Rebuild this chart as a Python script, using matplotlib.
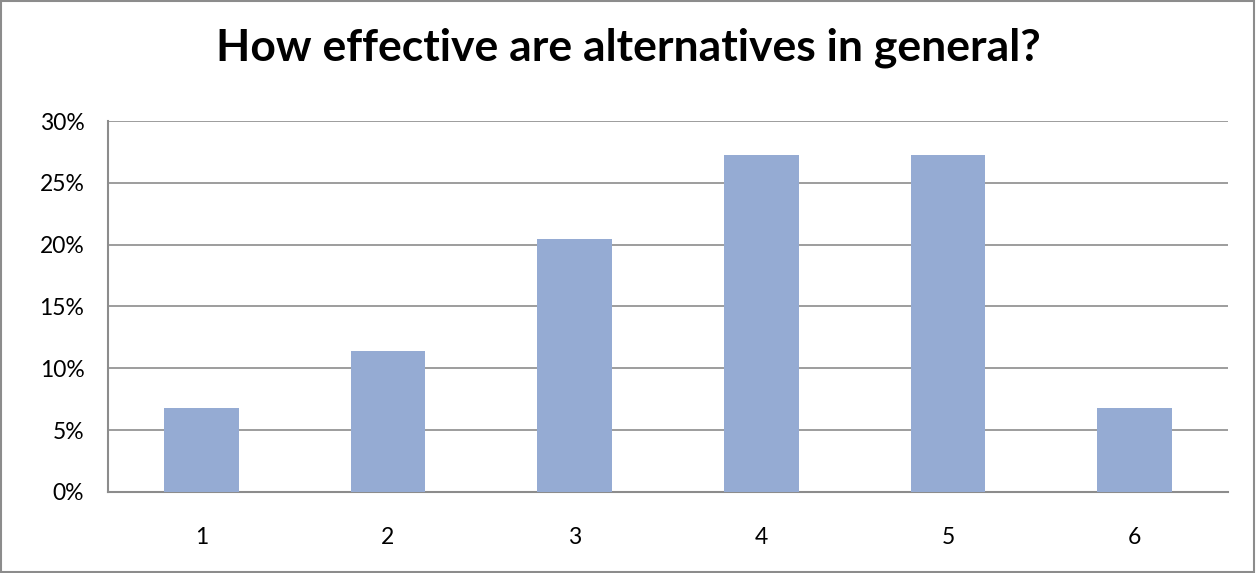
import numpy as np
import matplotlib.pyplot as plt
from matplotlib.patches import Rectangle
from matplotlib.ticker import PercentFormatter

# Data
categories = ["1", "2", "3", "4", "5", "6"]
shares = [3 / 44, 5 / 44, 9 / 44, 12 / 44, 12 / 44, 3 / 44]
y_ticks = [0, 0.05, 0.10, 0.15, 0.20, 0.25, 0.30]

plt.rcParams['font.family'] = ['Lato', 'DejaVu Sans']

fig = plt.figure(figsize=(12.57, 5.73), dpi=100)
ax = fig.add_axes([0.0859, 0.1414, 0.8910, 0.6474])

x = np.arange(len(categories))
ax.bar(x, shares, width=0.4, color='#95abd3', zorder=3)

ax.set_xlim(-0.5, len(categories) - 0.5)
ax.set_ylim(0, 0.30)
ax.set_xticks(x)
ax.set_xticklabels(categories)
ax.set_yticks(y_ticks)
ax.yaxis.set_major_formatter(PercentFormatter(1.0, decimals=0))
ax.tick_params(length=0, labelsize=16.5, pad=17)
ax.tick_params(axis='x', pad=25)

ax.grid(axis='y', color='#8c8c8c', linewidth=1.2, zorder=0)
for side in ['top', 'right']:
    ax.spines[side].set_visible(False)
for side in ['left', 'bottom']:
    ax.spines[side].set_color('#8c8c8c')
    ax.spines[side].set_linewidth(1.5)

fig.text(0.5, 0.916, "How effective are alternatives in general?",
         ha='center', va='center', fontsize=32, fontweight='bold')

# Chart border
fig.patches.append(Rectangle((0.001, 0.002), 0.997, 0.996, transform=fig.transFigure,
                             fill=False, edgecolor='#8c8c8c', linewidth=1.5))

fig.savefig('out.png', dpi=100)
